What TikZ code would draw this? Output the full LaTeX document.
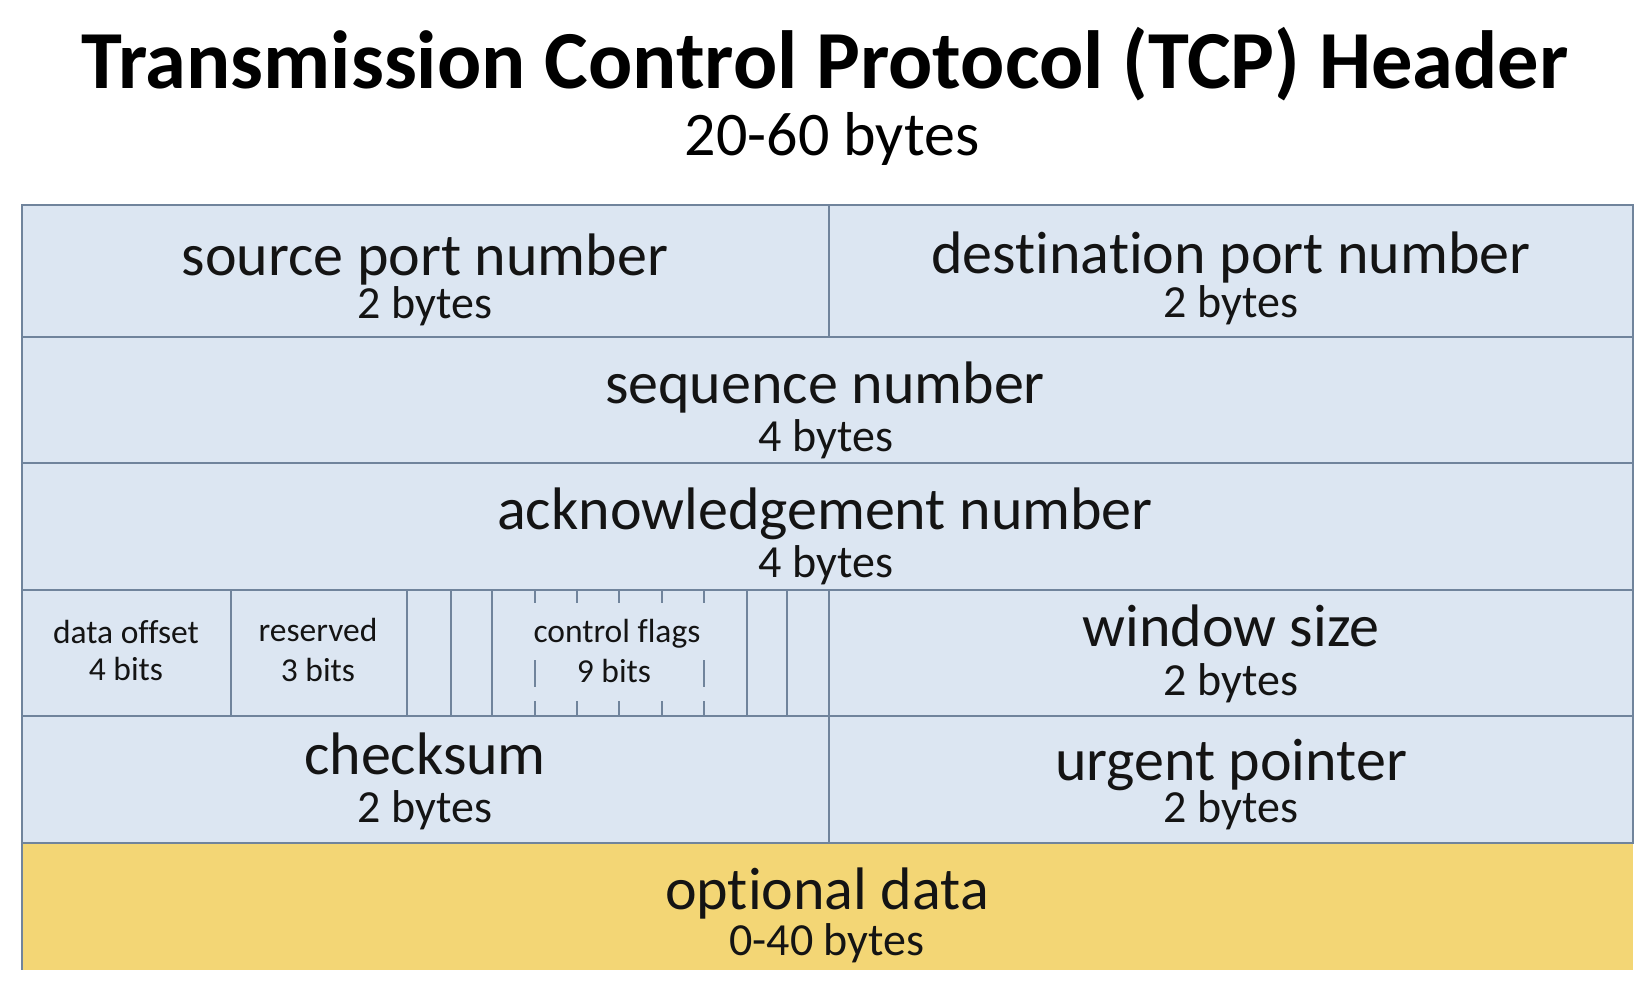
\documentclass[tikz,border=0pt]{standalone}
\usepackage{fontspec}
\setmainfont{Carlito}[Ligatures={NoCommon,NoRare,NoDiscretionary}]
\definecolor{cellblue}{RGB}{220,230,242}
\definecolor{gridline}{RGB}{112,132,156}
\definecolor{optyellow}{RGB}{243,214,117}
\definecolor{inkblack}{RGB}{20,20,20}
\begin{document}
\begin{tikzpicture}[x=1pt,y=-1pt,
  cell/.style={draw=gridline, line width=2pt, fill=cellblue, anchor=north west,
    inner sep=0pt, outer sep=0pt},
  bigtxt/.style={anchor=base, inner sep=0pt, text=inkblack, font=\fontsize{60}{60}\selectfont},
  subtxt/.style={anchor=base, inner sep=0pt, text=inkblack, font=\fontsize{46}{46}\selectfont},
  smalltxt/.style={anchor=base, inner sep=0pt, text=inkblack, font=\fontsize{33.5}{33.5}\selectfont},
  tickmark/.style={draw=gridline, line width=2pt}
]
\useasboundingbox (0,0) rectangle (1652,992);

% title
\node[anchor=base, inner sep=0pt, text=black, font=\fontsize{82.5}{82.5}\selectfont\bfseries]
  (title) at (825,89) {Transmission Control Protocol (TCP) Header};
\node[anchor=base, inner sep=0pt, text=black, font=\fontsize{62}{62}\selectfont]
  (subtitle) at (832,156) {20-60 bytes};

% optional data band
\node[anchor=north west, fill=optyellow, inner sep=0pt, outer sep=0pt,
  minimum width=1611pt, minimum height=127pt] (opt) at (22,843) {};
\draw[gridline, line width=2.5pt] (opt.north west) -- (opt.south west);

% header rows
\node[cell, minimum width=807pt, minimum height=132pt] (src) at (22,205) {};
\node[cell, minimum width=804pt, minimum height=132pt] (dst) at (829,205) {};
\node[cell, minimum width=1611pt, minimum height=126pt] (seq) at (22,337) {};
\node[cell, minimum width=1611pt, minimum height=127pt] (ack) at (22,463) {};

\node[cell, minimum width=208.7pt, minimum height=126pt] (doff) at (22,590) {};
\node[cell, minimum width=175.8pt, minimum height=126pt] (resv) at (230.7,590) {};
\node[cell, minimum width=44.2pt, minimum height=126pt] (bitA) at (406.5,590) {};
\node[cell, minimum width=41.6pt, minimum height=126pt] (bitB) at (450.7,590) {};
\node[cell, minimum width=254.4pt, minimum height=126pt] (flags) at (492.3,590) {};
\node[cell, minimum width=40.3pt, minimum height=126pt] (bitC) at (746.7,590) {};
\node[cell, minimum width=42pt, minimum height=126pt] (bitD) at (787,590) {};
\node[cell, minimum width=804pt, minimum height=126pt] (win) at (829,590) {};

\node[cell, minimum width=807pt, minimum height=127pt] (chk) at (22,716) {};
\node[cell, minimum width=804pt, minimum height=127pt] (urg) at (829,716) {};
\draw[gridline, line width=2.5pt] (chk.north east) -- (chk.south east);
\draw[gridline, line width=2.5pt] (doff.north west) -- (chk.south west);

% bit ticks inside the control flags field
\foreach \x in {535,576.7,619,662,704} {
  \draw[tickmark] (\x,590) -- (\x,603);
  \draw[tickmark] (\x,701) -- (\x,716);
}
\foreach \x in {535,704} \draw[tickmark] (\x,660) -- (\x,687);

% labels
\node[bigtxt] (srcA) at (425,276) {source port number};
\node[subtxt] (srcB) at (425,319) {2 bytes};
\node[bigtxt] (dstA) at (1231,274) {destination port number};
\node[subtxt] (dstB) at (1231,318) {2 bytes};
\node[bigtxt] (seqA) at (825,403) {sequence number};
\node[subtxt] (seqB) at (826,451) {4 bytes};
\node[bigtxt] (ackA) at (825,529) {acknowledgement number};
\node[subtxt] (ackB) at (826,577) {4 bytes};

\node[smalltxt] (doffA) at (126,643) {data offset};
\node[smalltxt] (doffB) at (126,680) {4 bits};
\node[smalltxt] (resvA) at (318,641) {reserved};
\node[smalltxt] (resvB) at (318,681) {3 bits};
\node[smalltxt] (flagsA) at (617,642) {control flags};
\node[smalltxt] (flagsB) at (614,682) {9 bits};

\node[bigtxt] (winA) at (1231,646) {window size};
\node[subtxt] (winB) at (1231,695) {2 bytes};
\node[bigtxt] (chkA) at (425,774) {checksum};
\node[subtxt] (chkB) at (425,822) {2 bytes};
\node[bigtxt] (urgA) at (1231,780) {urgent pointer};
\node[subtxt] (urgB) at (1231,822) {2 bytes};
\node[bigtxt] (optA) at (827,909) {optional data};
\node[subtxt] (optB) at (827,955) {0-40 bytes};
\end{tikzpicture}
\end{document}
